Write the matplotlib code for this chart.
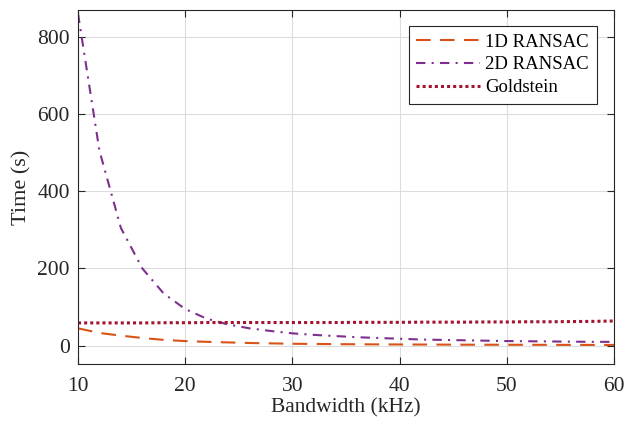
import numpy as np
import matplotlib; matplotlib.use("Agg")
import matplotlib.pyplot as plt
plt.rcParams.update({"font.family": "Liberation Serif", "mathtext.fontset": "stix"})

# ---- data ----
bw = [10, 12, 14, 16, 18, 20, 22, 24, 26, 28, 30, 32, 34, 36, 38, 40, 42, 44, 46, 48, 50, 52, 54, 56, 58, 60]
t_1d = [45, 33, 26, 20, 15, 12, 10, 8.5, 7, 6, 5, 4.5, 4, 3.7, 3.4, 3.2, 3.0, 2.8, 2.6, 2.5, 2.4, 2.3, 2.2, 2.1, 2.0, 2.0]
t_2d = [860, 505, 305, 200, 135, 95, 70, 55, 45, 38, 32, 28, 25, 22, 20, 18, 16, 15, 14, 13, 12, 11.5, 11, 10.5, 10, 10]
t_gold = [59, 59, 59, 59, 59.5, 59.5, 60, 60, 60, 60, 60, 60, 60, 60.5, 60.5, 60.5, 61, 61, 61, 61.5, 61.5, 62, 62, 62.5, 63, 64]

fig = plt.figure(figsize=(6.24, 4.26), dpi=100)
ax = fig.add_axes([0.125, 0.145, 0.859, 0.832])
ax.plot(bw, t_1d, color="#D95319", lw=1.5, ls=(0, (7, 4.5)), label="1D RANSAC")
ax.plot(bw, t_2d, color="#7E2F8E", lw=1.5, ls=(0, (4.5, 3, 1, 3)), label="2D RANSAC")
ax.plot(bw, t_gold, color="#A2142F", lw=2.2, ls=(0, (1, 1)), label="Goldstein")

ax.set_xlim(10, 60); ax.set_ylim(-48, 870)
ax.set_xticks([10, 20, 30, 40, 50, 60]); ax.set_yticks([0, 200, 400, 600, 800])
ax.grid(True, color="#dcdcdc", lw=0.8)
ax.set_axisbelow(True)
ax.tick_params(direction="in", length=5, labelsize=15.5, colors="#262626", top=True, right=True)
ax.tick_params(axis="x", pad=9)
ax.tick_params(axis="y", pad=6)
for s in ax.spines.values():
    s.set_color("#262626"); s.set_linewidth(0.8)
ax.set_xlabel("Bandwidth (kHz)", fontsize=15.5, color="#262626", labelpad=2)
ax.set_ylabel("Time (s)", fontsize=16, color="#262626", labelpad=4)
leg = ax.legend(loc="upper right", bbox_to_anchor=(0.978, 0.97), fontsize=13.5, fancybox=False,
                framealpha=1, edgecolor="#262626", borderpad=0.4, labelspacing=0.3,
                handlelength=3.4, handletextpad=0.3, borderaxespad=0.3)
leg.get_frame().set_linewidth(0.8)
fig.savefig("out.png")
